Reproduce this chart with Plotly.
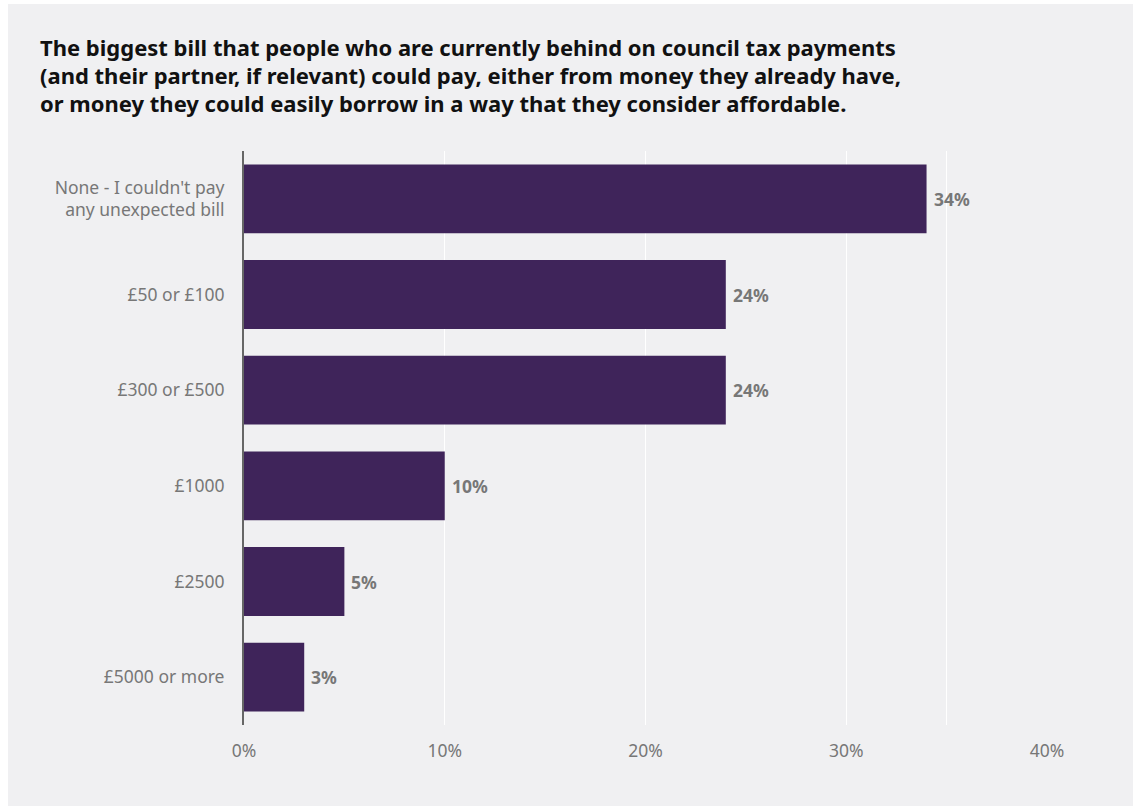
import plotly.graph_objects as go

# Survey responses: largest unexpected bill that could be paid
categories = [
    "None - I couldn't pay<br>any unexpected bill",
    "£50 or £100",
    "£300 or £500",
    "£1000",
    "£2500",
    "£5000 or more",
]
shares = [34, 24, 24, 10, 5, 3]

x_tick_values = [0, 10, 20, 30, 35, 40]
x_tick_labels = ["0%", "10%", "20%", "30%", "", "40%"]

title_lines = [
    "The biggest bill that people who are currently behind on council tax payments",
    "(and their partner, if relevant) could pay, either from money they already have,",
    "or money they could easily borrow in a way that they consider affordable.",
]

W, H = 1137, 809
BG = "#f0f0f2"
BAR = "#3f245a"
GREY_TEXT = "#777777"
FONT = "Noto Sans"

fig = go.Figure(
    go.Bar(
        x=shares,
        y=categories,
        orientation="h",
        marker=dict(color=BAR, line=dict(width=0)),
        width=0.72,
        hoverinfo="skip",
    )
)

# Value labels just beyond each bar end
for cat, val in zip(categories, shares):
    fig.add_annotation(
        x=val, y=cat, text=f"{val}%",
        xref="x", yref="y",
        xanchor="left", yanchor="middle", xshift=5,
        showarrow=False,
        font=dict(family=FONT, size=17.5, color=GREY_TEXT, weight="bold"),
    )

ml, mr, mt, mb = 244, 90, 151, 84
pw, ph = W - ml - mr, H - mt - mb

# Light panel inset from the page edge
fig.add_shape(
    type="rect",
    xref="paper", yref="paper",
    x0=(8 - ml) / pw, x1=(1133 - ml) / pw,
    y0=-(mb - 3) / ph, y1=1 + (mt - 4) / ph,
    fillcolor=BG, line=dict(width=0), layer="below",
)

# Three-line bold heading, placed line by line for even spacing
for i, line in enumerate(title_lines):
    y_px = 47 + 28 * i
    fig.add_annotation(
        text=line,
        xref="paper", yref="paper",
        x=(38 - ml) / pw, xanchor="left",
        y=1 + (mt - y_px) / ph, yanchor="middle",
        showarrow=False,
        font=dict(family=FONT, size=22, color="#111111", weight="bold"),
    )

fig.update_layout(
    width=W, height=H,
    margin=dict(l=ml, r=mr, t=mt, b=mb),
    paper_bgcolor="white",
    plot_bgcolor=BG,
    showlegend=False,
    bargap=0.28,
    font=dict(family=FONT, color=GREY_TEXT),
    xaxis=dict(
        range=[0, 40],
        tickvals=x_tick_values,
        ticktext=x_tick_labels,
        showgrid=True, gridcolor="white", gridwidth=1,
        zeroline=False, showline=False,
        ticks="", ticklabelstandoff=13,
        tickfont=dict(family=FONT, size=17.5, color=GREY_TEXT),
        fixedrange=True,
    ),
    yaxis=dict(
        autorange="reversed",
        showgrid=False, zeroline=False,
        showline=True, linecolor="#666666", linewidth=2,
        ticks="", ticklabelstandoff=14,
        tickfont=dict(family=FONT, size=17.5, color=GREY_TEXT),
        fixedrange=True,
    ),
)

fig.write_html("out.html", config={"displayModeBar": False})
